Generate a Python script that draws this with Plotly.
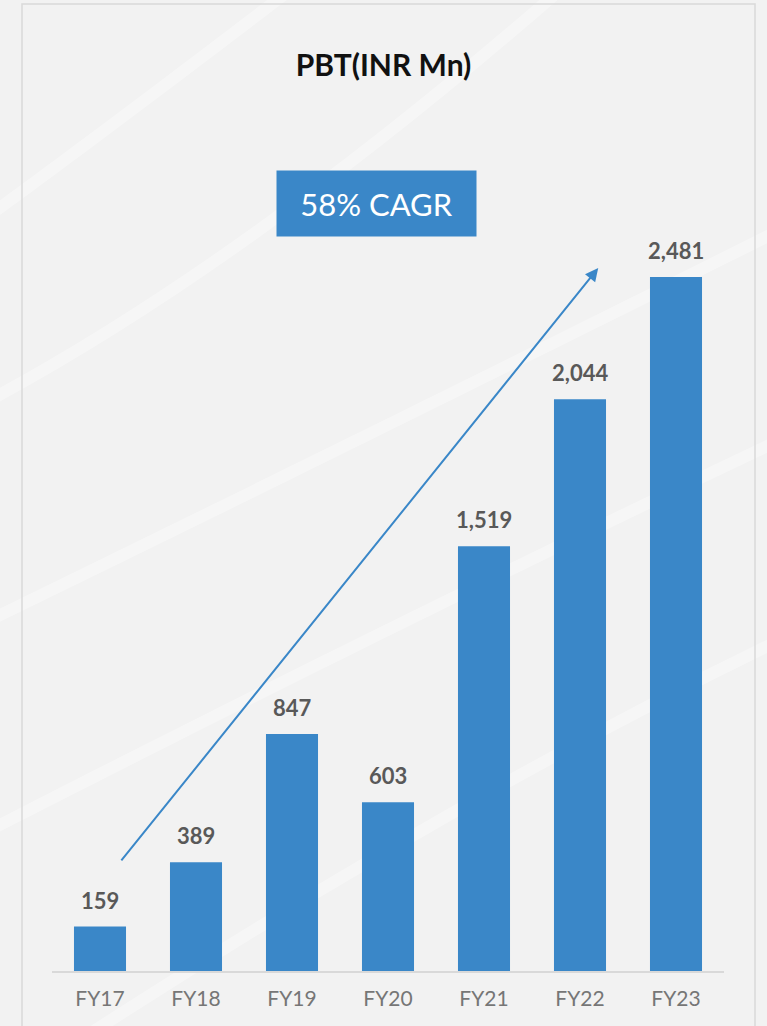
import plotly.graph_objects as go

# data
years = ["FY17", "FY18", "FY19", "FY20", "FY21", "FY22", "FY23"]
pbt = [159, 389, 847, 603, 1519, 2044, 2481]
cagr_label = "58% CAGR"

BLUE = "#3a87c8"

# plot area in pixels: left 52, right 724, baseline 971, top 100
def px(x, y):
    return (x - 52) / 672, (971 - y) / 871

def curve(p0, c, p1):
    a, b, d = px(*p0), px(*c), px(*p1)
    return f"M {a[0]},{a[1]} Q {b[0]},{b[1]} {d[0]},{d[1]}"

fig = go.Figure()
fig.add_trace(go.Bar(x=years, y=pbt, marker_color=BLUE, marker_line_width=0,
                     hoverinfo="x+y"))

# value labels above the bars
for yr, v in zip(years, pbt):
    fig.add_annotation(x=yr, y=v, text=f"<b>{v:,}</b>", showarrow=False,
                       yanchor="bottom", yshift=11,
                       font=dict(family="Lato", size=22, color="#595959"))

# growth arrow
fig.add_annotation(x=5.19, y=2513, ax=0.21, ay=390, xref="x", yref="y",
                   axref="x", ayref="y", text="", showarrow=True,
                   arrowhead=2, arrowsize=1.3, arrowwidth=2, arrowcolor=BLUE)

# CAGR box
fig.add_annotation(x=0.483, y=0.881, xref="paper", yref="paper",
                   xanchor="center", yanchor="middle",
                   text=cagr_label, showarrow=False, bgcolor=BLUE,
                   width=199, height=65, borderpad=0,
                   font=dict(family="Lato", size=31, color="white"))

# faint white swooshes in the background
swooshes = [
    ((-10, 215), (120, 120), (290, -10)),
    ((-10, 400), (250, 260), (560, -10)),
    ((-10, 620), (380, 430), (780, 230)),
    ((-10, 830), (400, 620), (780, 440)),
    ((80, 1040), (450, 800), (780, 640)),
]
for p0, c, p1 in swooshes:
    fig.add_shape(type="path", path=curve(p0, c, p1), xref="paper", yref="paper",
                  layer="below", line=dict(color="white", width=12), opacity=0.35)

fig.update_layout(
    width=767, height=1026,
    paper_bgcolor="#f2f2f2", plot_bgcolor="rgba(0,0,0,0)",
    margin=dict(l=52, r=43, t=100, b=55),
    bargap=0.458, showlegend=False,
    title=dict(text="<b>PBT(INR Mn)</b>", x=0.5, xanchor="center",
               y=1 - 65 / 1026, yanchor="middle",
               font=dict(family="Lato", size=30, color="#111111")),
    xaxis=dict(showline=True, linecolor="#d9d9d9", linewidth=1.5,
               showgrid=False, ticks="", fixedrange=True, ticklabelstandoff=8,
               tickfont=dict(family="Lato", size=21, color="#767676")),
    yaxis=dict(range=[0, 3114], visible=False, showgrid=False, fixedrange=True),
)

# outer frame
x0, y1 = px(22, 4)
x1, y0 = px(755, 1100)
fig.add_shape(type="rect", xref="paper", yref="paper",
              x0=x0, x1=x1, y0=y0, y1=y1,
              line=dict(color="#d9d9d9", width=1.5), layer="below")

fig.write_html("out.html", config={"displayModeBar": False},
               post_script="document.body.style.margin='0';")
